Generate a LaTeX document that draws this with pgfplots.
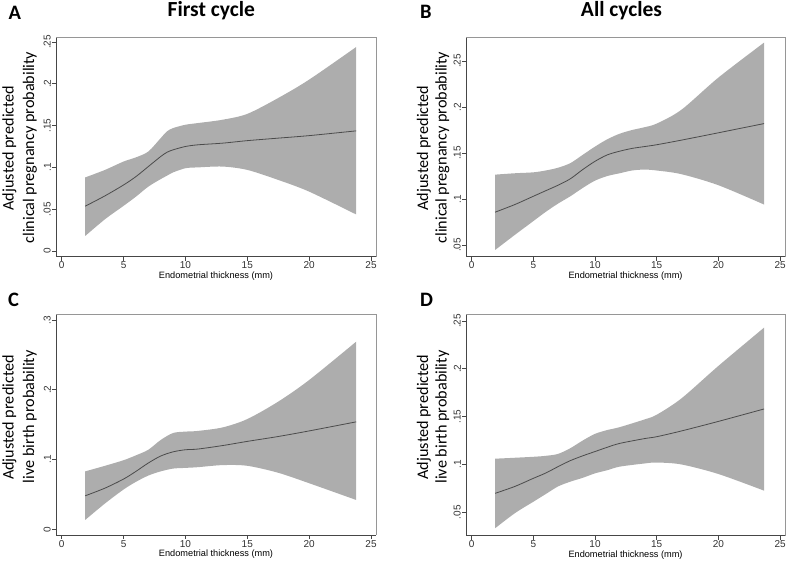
\documentclass[border=0pt]{standalone}
\usepackage{fontspec}
\setmainfont{Liberation Sans}
\newfontfamily\calib{Carlito}
\usepackage{pgfplots}
\usepackage{pgfplotstable}
\pgfplotsset{compat=1.18}
\usepgfplotslibrary{fillbetween}
\definecolor{bandgray}{RGB}{173,173,173}
\definecolor{mline}{RGB}{75,75,75}
\definecolor{axdark}{RGB}{70,70,70}
\definecolor{axlight}{RGB}{150,150,150}
\definecolor{ticktext}{RGB}{50,50,50}

\pgfplotstableread{
x m u l
1.9 0.0536 0.088 0.018
3.5 0.066 0.097 0.038
5 0.079 0.107 0.054
6 0.089 0.112 0.065
7 0.101 0.119 0.077
8 0.113 0.135 0.086
8.5 0.118 0.143 0.090
9 0.121 0.147 0.094
10 0.125 0.151 0.099
11 0.127 0.153 0.100
13 0.129 0.157 0.101
15 0.132 0.164 0.097
17.5 0.135 0.183 0.085
20 0.138 0.205 0.071
23.8 0.1437 0.244 0.0437
}\tabA

\pgfplotstableread{
x m u l
1.9 0.0857 0.1265 0.0446
3.5 0.094 0.128 0.061
5 0.103 0.129 0.076
6 0.109 0.131 0.086
7 0.115 0.134 0.095
8 0.122 0.139 0.103
9 0.132 0.148 0.112
10 0.141 0.157 0.120
11 0.148 0.165 0.125
12 0.152 0.171 0.128
13 0.155 0.175 0.131
14 0.157 0.178 0.132
15 0.159 0.182 0.131
17 0.164 0.197 0.127
20 0.172 0.232 0.115
23.7 0.182 0.270 0.094
}\tabB

\pgfplotstableread{
x m u l
1.9 0.048 0.083 0.0134
3.5 0.059 0.091 0.037
5 0.072 0.099 0.057
6 0.083 0.106 0.068
7 0.095 0.114 0.077
8 0.105 0.128 0.083
9 0.111 0.138 0.087
10 0.114 0.140 0.088
11 0.115 0.141 0.089
13 0.120 0.146 0.092
15 0.126 0.158 0.091
17.5 0.133 0.183 0.081
20 0.141 0.214 0.066
23.8 0.154 0.269 0.042
}\tabC

\pgfplotstableread{
x m u l
1.9 0.0698 0.106 0.0333
3.5 0.077 0.107 0.049
5 0.0855 0.108 0.061
6 0.091 0.109 0.069
7 0.0977 0.111 0.077
8 0.104 0.117 0.082
9 0.109 0.125 0.086
10 0.1135 0.132 0.0907
11 0.118 0.136 0.094
12 0.122 0.139 0.0977
14 0.127 0.147 0.101
15 0.129 0.152 0.102
17 0.135 0.169 0.100
20 0.145 0.203 0.090
23.7 0.158 0.243 0.0726
}\tabD

\pgfplotsset{
  stata/.style={
    scale only axis, anchor=south west, clip=false,
    axis x line*=bottom, axis y line*=left,
    x axis line style={-}, y axis line style={-},
    axis line style={axdark, line width=0.9bp},
    tick align=outside, major tick length=4bp,
    tick style={axdark, line width=0.8bp},
    xtick={0,5,10,15,20,25},
    xticklabels={0,5,10,15,20,25},
    xmin=-0.46, xmax=25.4,
    ticklabel style={font=\fontsize{10bp}{12bp}\selectfont, text=ticktext},
    yticklabel style={rotate=90, anchor=south, inner sep=1bp},
    xticklabel style={anchor=north, inner sep=1bp},
    xlabel={Endometrial thickness (mm)},
    xlabel style={font=\fontsize{9.2bp}{11bp}\selectfont, text=black,
      at={(axis description cs:0.5,0)}, anchor=north, yshift=-15bp, inner sep=0pt},
  },
}
\newcommand{\bandplot}[2]{%
  \addplot[name path=u#2, draw=none, smooth] table[x=x,y=u]{#1};
  \addplot[name path=l#2, draw=none, smooth] table[x=x,y=l]{#1};
  \addplot[fill=bandgray, draw=none] fill between[of=u#2 and l#2];
  \addplot[mline, line width=0.8bp, smooth] table[x=x,y=m]{#1};
  \draw[axlight, line width=0.8bp] (rel axis cs:0,1) -- (rel axis cs:1,1) -- (rel axis cs:1,0);
}

\begin{document}
\begin{tikzpicture}
\path (0,0) rectangle (789bp,563bp);

% Panel A
\begin{axis}[stata, at={(56bp,306.3bp)}, width=320bp, height=219.4bp,
  ymin=-0.0068, ymax=0.2556,
  ytick={0,0.05,0.1,0.15,0.2,0.25}, yticklabels={0,.05,.1,.15,.2,.25}]
\bandplot{\tabA}{A}
\end{axis}

% Panel B
\begin{axis}[stata, at={(466bp,306.3bp)}, width=319bp, height=219.4bp,
  ymin=0.0373, ymax=0.2758,
  ytick={0.05,0.1,0.15,0.2,0.25}, yticklabels={.05,.1,.15,.2,.25}]
\bandplot{\tabB}{B}
\end{axis}

% Panel C
\begin{axis}[stata, at={(56bp,28bp)}, width=320bp, height=221bp,
  ymin=-0.0082, ymax=0.3086,
  ytick={0,0.1,0.2,0.3}, yticklabels={0,.1,.2,.3}]
\bandplot{\tabC}{C}
\end{axis}

% Panel D
\begin{axis}[stata, at={(466bp,27.3bp)}, width=319bp, height=221.7bp,
  ymin=0.0255, ymax=0.2573,
  ytick={0.05,0.1,0.15,0.2,0.25}, yticklabels={.05,.1,.15,.2,.25}]
\bandplot{\tabD}{D}
\end{axis}

% Titles and panel letters
\node[anchor=base, inner sep=0pt, font=\calib\bfseries\fontsize{21.5bp}{25bp}\selectfont] at (211.3bp,546.3bp) {First cycle};
\node[anchor=base, inner sep=0pt, font=\calib\bfseries\fontsize{21.5bp}{25bp}\selectfont] at (621.5bp,546.3bp) {All cycles};
\node[anchor=base west, inner sep=0pt, font=\calib\bfseries\fontsize{20.5bp}{24bp}\selectfont] at (8.5bp,543bp) {A};
\node[anchor=base west, inner sep=0pt, font=\calib\bfseries\fontsize{20.5bp}{24bp}\selectfont] at (420bp,544bp) {B};
\node[anchor=base west, inner sep=0pt, font=\calib\bfseries\fontsize{20.5bp}{24bp}\selectfont] at (8bp,256.3bp) {C};
\node[anchor=base west, inner sep=0pt, font=\calib\bfseries\fontsize{20.5bp}{24bp}\selectfont] at (420bp,256bp) {D};

% Y axis titles
\node[rotate=90, inner sep=0pt, font=\calib\fontsize{16.2bp}{19bp}\selectfont] at (9.5bp,415bp) {Adjusted predicted};
\node[rotate=90, inner sep=0pt, font=\calib\fontsize{16.2bp}{19bp}\selectfont] at (29.8bp,415.5bp) {clinical pregnancy probability};
\node[rotate=90, inner sep=0pt, font=\calib\fontsize{16.2bp}{19bp}\selectfont] at (424bp,415bp) {Adjusted predicted};
\node[rotate=90, inner sep=0pt, font=\calib\fontsize{16.2bp}{19bp}\selectfont] at (442.3bp,415.5bp) {clinical pregnancy probability};
\node[rotate=90, inner sep=0pt, font=\calib\fontsize{16.2bp}{19bp}\selectfont] at (9.5bp,145.5bp) {Adjusted predicted};
\node[rotate=90, inner sep=0pt, font=\calib\fontsize{16.2bp}{19bp}\selectfont] at (29.8bp,146.3bp) {live birth probability};
\node[rotate=90, inner sep=0pt, font=\calib\fontsize{16.2bp}{19bp}\selectfont] at (424bp,146bp) {Adjusted predicted};
\node[rotate=90, inner sep=0pt, font=\calib\fontsize{16.2bp}{19bp}\selectfont] at (442.3bp,146bp) {live birth probability};
\end{tikzpicture}
\end{document}
